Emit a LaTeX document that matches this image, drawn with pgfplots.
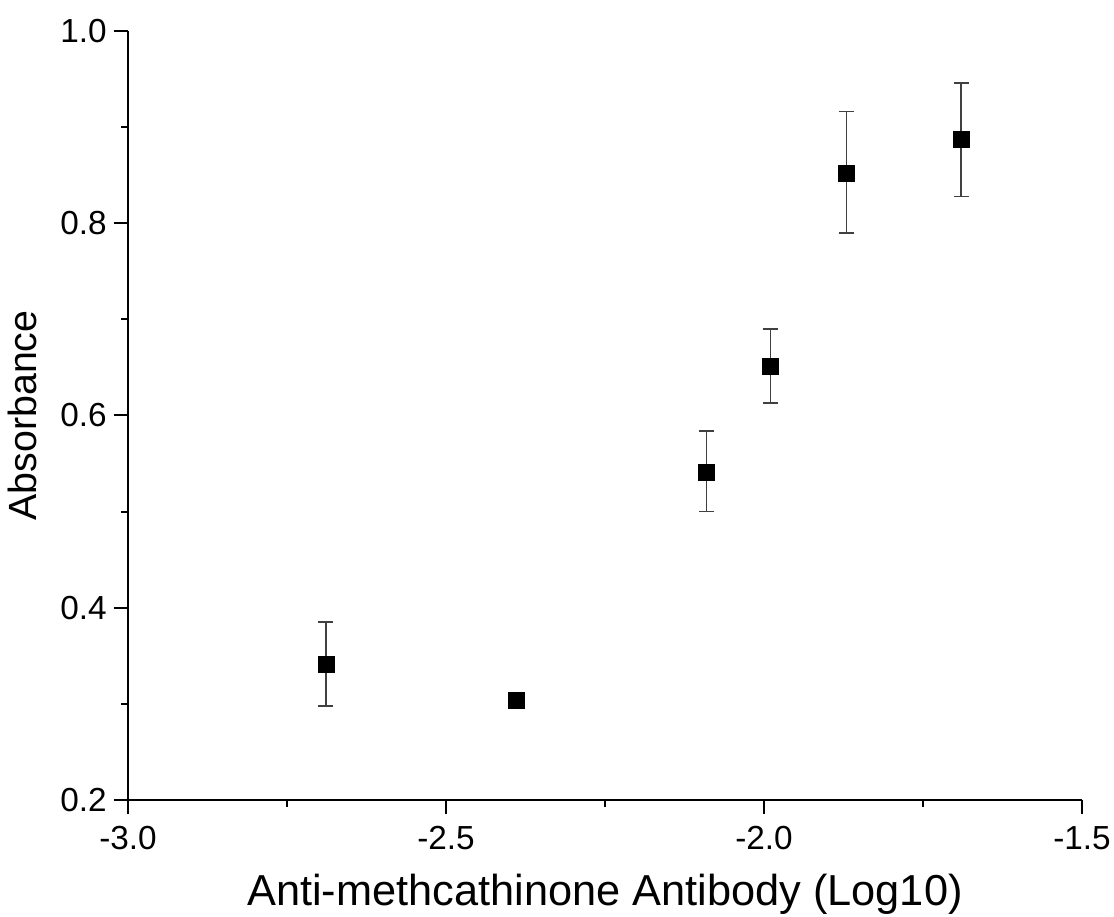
\documentclass[border=0pt]{standalone}
\usepackage{fontspec}
\setmainfont{Liberation Sans}
\usepackage{pgfplots}
\pgfplotsset{compat=1.18}
\usetikzlibrary{calc}
\begin{document}
\begin{tikzpicture}
\begin{axis}[
  name=ax,
  scale only axis,
  width=715.5pt, height=576.75pt,
  xmin=-3.0, xmax=-1.5, ymin=0.2, ymax=1.0,
  axis x line=bottom, axis y line=left,
  axis line style={line width=1.5pt, -},
  xtick={-3.0,-2.5,-2.0,-1.5},
  minor xtick={-2.75,-2.25,-1.75},
  ytick={0.2,0.4,0.6,0.8,1.0},
  minor ytick={0.3,0.5,0.7,0.9},
  tick align=outside,
  major tick length=10.5pt,
  minor tick length=5pt,
  every tick/.style={line width=1.5pt, black},
  /pgf/number format/assume math mode=true,
  /pgf/number format/fixed,
  /pgf/number format/fixed zerofill,
  /pgf/number format/precision=1,
  ticklabel style={font=\fontsize{25}{28}\selectfont},
  xticklabel style={yshift=-6pt},
  yticklabel style={xshift=-2pt},
  xlabel={Anti-methcathinone Antibody (Log10)},
  ylabel={Absorbance},
  xlabel style={font=\fontsize{32.5}{36}\selectfont, yshift=-11pt},
  ylabel style={font=\fontsize{29.5}{33}\selectfont, yshift=10.5pt},
  clip=false,
]
\addplot[
  only marks, mark=square*, mark size=6pt, black,
  error bars/.cd, y dir=both, y explicit,
  error bar style={line width=1.1pt, black!75},
  error mark options={rotate=90, mark size=5.6pt, line width=1.1pt, black!75},
] table[x=x, y=y, y error plus=ep, y error minus=em] {
x      y      ep     em
-2.689 0.341  0.044  0.043
-2.390 0.304  0.000  0.000
-2.090 0.541  0.043  0.041
-1.990 0.651  0.039  0.038
-1.870 0.852  0.064  0.062
-1.690 0.887  0.059  0.059
};
\end{axis}
\pgfresetboundingbox
\path ($(ax.south west)+(-96pt,-87.75pt)$) rectangle ($(ax.north east)+(24pt,23.25pt)$);
\end{tikzpicture}
\end{document}
